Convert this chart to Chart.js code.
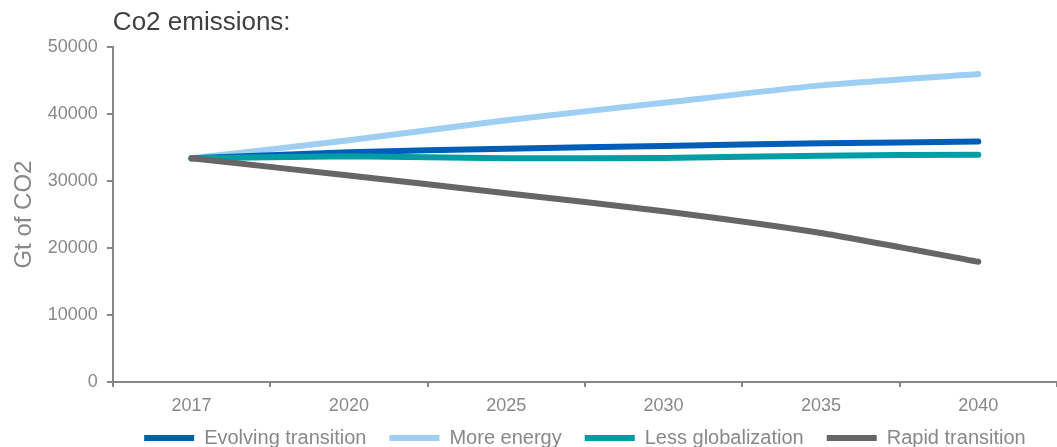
<!DOCTYPE html>
<html>
<head>
<meta charset="utf-8">
<script src="https://cdn.jsdelivr.net/npm/chart.js@4/dist/chart.umd.min.js"></script>
<style>
  html, body { margin: 0; padding: 0; background: #fff; overflow: hidden; }
  #clip { width: 1057px; height: 447px; overflow: hidden; position: relative; }
  #box { width: 1057px; height: 458px; position: relative; }
</style>
</head>
<body>
<div id="clip"><div id="box"><canvas id="c"></canvas></div></div>
<script>
const categories = ['2017', '2020', '2025', '2030', '2035', '2040'];
const evolvingTransition = [33400, 34300, 34850, 35250, 35650, 35900];
const moreEnergy = [33400, 36100, 39100, 41700, 44300, 46000];
const lessGlobalization = [33400, 33700, 33400, 33450, 33800, 33950];
const rapidTransition = [33400, 30850, 28200, 25500, 22250, 17950];
const seriesNames = ['Evolving transition', 'More energy', 'Less globalization', 'Rapid transition'];
const yTicks = [0, 10000, 20000, 30000, 40000, 50000];
const titleText = 'Co2 emissions:';
const yTitle = 'Gt of CO2';

const FONT = "'Liberation Sans', Arial, sans-serif";
const AXIS = '#868686';
const TXT = '#888888';

function ds(label, data, color, order) {
  return {
    label, data,
    borderColor: color, backgroundColor: color,
    borderWidth: 6, borderCapStyle: 'round', borderJoinStyle: 'round',
    pointRadius: 0, pointHoverRadius: 0,
    tension: 0.2, fill: false, order
  };
}

new Chart(document.getElementById('c'), {
  type: 'line',
  data: {
    labels: categories,
    datasets: [
      ds(seriesNames[0], evolvingTransition, '#005EB8', 3),
      ds(seriesNames[1], moreEnergy, '#9ECFF3', 4),
      ds(seriesNames[2], lessGlobalization, '#009DA5', 2),
      ds(seriesNames[3], rapidTransition, '#666666', 1)
    ]
  },
  options: {
    responsive: true,
    maintainAspectRatio: false,
    animation: false,
    layout: { padding: 0 },
    plugins: {
      tooltip: { enabled: false },
      title: {
        display: true, text: titleText, align: 'start', fullSize: false,
        color: '#404040', font: { family: FONT, size: 26, weight: 'normal' },
        padding: { top: 7, bottom: 9 }
      },
      legend: {
        position: 'bottom', fullSize: false,
        labels: {
          usePointStyle: true, pointStyle: 'line', pointStyleWidth: 50,
          color: TXT, font: { family: FONT, size: 20 }, padding: 23,
          sort: (a, b) => a.datasetIndex - b.datasetIndex
        }
      }
    },
    scales: {
      x: {
        type: 'category', offset: true,
        grid: { offset: true, drawOnChartArea: false, drawTicks: true, tickLength: 5, tickColor: AXIS, lineWidth: 2, color: AXIS },
        border: { display: true, color: AXIS, width: 2 },
        ticks: { color: TXT, font: { family: FONT, size: 18 }, padding: 8, maxRotation: 0 },
        afterFit: (s) => {
          s.height = s.height - 19.6;
          s._computeLabelArea = () => undefined;
        }
      },
      y: {
        min: yTicks[0], max: yTicks[yTicks.length - 1],
        afterBuildTicks: (s) => { s.ticks = yTicks.map(v => ({ value: v })); },
        grid: { drawOnChartArea: false, drawTicks: true, tickLength: 6, tickColor: AXIS, lineWidth: 2, color: AXIS },
        border: { display: true, color: AXIS, width: 2 },
        ticks: { color: TXT, font: { family: FONT, size: 18 }, padding: 9, callback: (v) => String(v) },
        title: { display: true, text: yTitle, color: TXT, font: { family: FONT, size: 24 }, padding: { top: 10, bottom: 0 } }
      }
    }
  }
});
</script>
</body>
</html>
